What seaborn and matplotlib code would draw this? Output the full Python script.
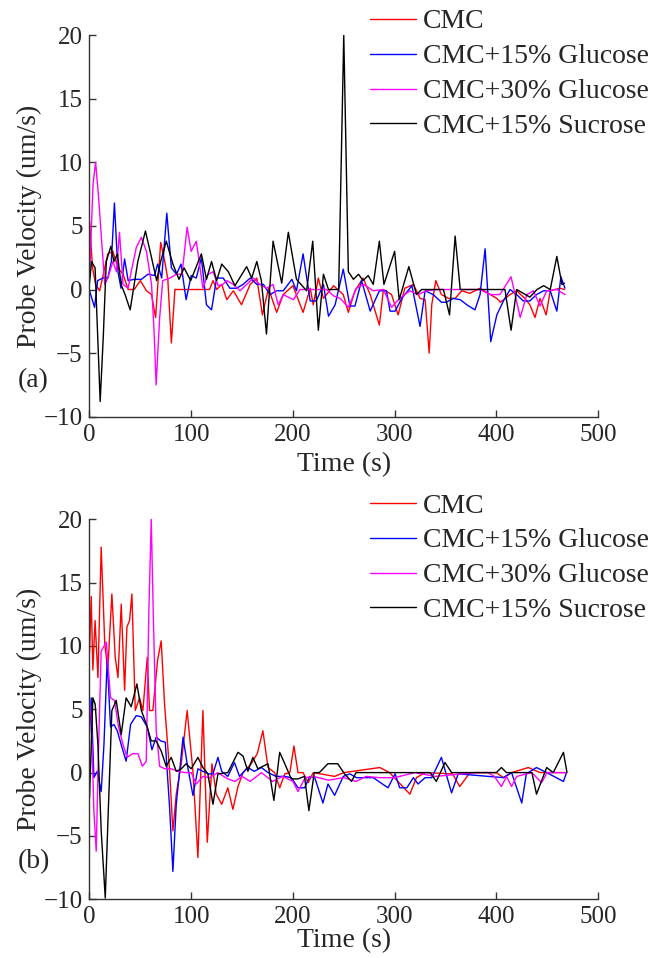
import matplotlib
matplotlib.use("Agg")
import matplotlib.pyplot as plt
import pandas as pd
import seaborn as sns

series_names = ["CMC", "CMC+15% Glucose", "CMC+30% Glucose", "CMC+15% Sucrose"]
series_colors = ["#ff0000", "#0000ff", "#ff00ff", "#000000"]
x_ticks = [0, 100, 200, 300, 400, 500]
y_ticks = [-10, -5, 0, 5, 10, 15, 20]

# ---- panel (a) ----
a_cmc_t = [0, 3, 6, 10, 18, 23, 28, 33, 38, 44, 50, 56, 61, 65, 70, 74, 77, 80.5, 84, 118,
           121.5, 125, 130, 135, 141.5, 149.5, 158, 164.5, 170, 176, 184, 190.5, 200, 210, 217, 220,
           225, 230, 240, 249.5, 254.5, 261, 269, 276, 285, 289, 297, 303.5, 310, 318.5, 325, 330,
           334, 336.5, 340.5, 346, 353, 359.5, 366, 374, 384, 394, 400.5, 404, 413.5, 420, 428, 433,
           438, 443, 449, 453, 462.5, 467]
a_cmc_v = [5.4, 1.7, 0.4, -0.1, 2.8, 3.0, 1.7, 1.2, 0.0, 0.0, 0.7, -0.1, -0.4, -2.2, 3.7, 2.2,
           0.8, -4.2, 0.0, 0.0, 0.7, 0.0, 0.4, -0.8, -0.1, -1.2, 0.4, 0.9, -2.0, 0.1, -1.8, -0.4,
           0.3, -1.8, 0.1, -1.2, 0.9, -0.7, 0.3, -0.4, -1.8, -0.1, 0.9, -0.4, -2.8, 0.0, -0.4, -2.0,
           0.1, 0.4, -0.7, -0.8, -5.0, -1.2, 0.7, -0.4, -0.7, -0.7, -0.1, -0.3, 0.1, -0.4, -0.7, -1.0,
           -0.4, -0.1, -0.7, -1.2, -2.2, -0.7, -2.0, -0.1, 0.1, 0.0]

a_g15_t = [0, 5, 8, 13, 18, 21.5, 24.5, 28, 31, 34.5, 38, 44, 51, 57.5, 64, 67, 71, 76, 80.5,
           85.5, 90, 95, 100, 105, 110, 115, 120, 125, 131.5, 138, 144.5, 151, 158, 164.5, 171,
           177.5, 184, 190.5, 199, 203.5, 210, 217, 223, 230, 235, 241.5, 249.5, 256, 261, 267.5,
           276, 285, 292, 295.5, 300.5, 307, 317, 325, 330, 338, 346, 351, 357.5, 364.5, 371, 379,
           384, 389, 394.5, 400.5, 407, 413.5, 420, 426.5, 433, 439.5, 446.5, 453, 459.5, 463.5, 467.5]
a_g15_v = [-0.1, -1.4, 0.7, 0.9, 0.9, 2.2, 6.8, 1.4, 0.1, 2.4, 0.7, 0.8, 0.8, 1.2, 1.1, 2.0, 0.9,
           6.0, 1.7, 1.2, 2.0, -0.8, 1.1, 0.9, 2.5, -1.2, -1.6, 0.9, 0.9, 0.1, 0.1, 0.4, 0.9, 0.4,
           0.4, -0.4, -0.1, -0.1, 0.8, -0.1, 2.8, -0.9, -0.9, 0.4, -2.1, -1.2, 1.6, -1.3, -1.3, 0.7,
           -1.7, -0.1, -0.1, -1.7, -1.7, -0.7, 0.3, -2.9, -0.1, -0.4, -1.0, -1.0, -0.7, -0.8, -1.2,
           -1.6, -0.4, 3.2, -4.1, -2.0, -0.9, 0.0, -0.4, -0.9, -0.9, -0.4, -0.1, -0.1, -1.7, 1.0, 0.1]

a_g30_t = [0, 3.5, 6, 9, 11.5, 15, 18, 23, 26.5, 29.5, 33, 38, 41, 46, 51, 56, 61, 63.5, 65.5,
           69, 72, 79, 85.5, 91, 96, 100, 105, 111.5, 116.5, 121.5, 126.5, 131, 135, 141.5, 148,
           154.5, 161, 167.5, 174, 180.5, 185.5, 190.5, 200.5, 207, 233, 240, 246.5, 254.5, 262.5,
           269.5, 279, 289, 297, 305, 315, 323, 331.5, 341.5, 384, 394, 403.5, 414.5, 423.5, 430,
           436.5, 443, 449.5, 459.5, 467.5]
a_g30_v = [0.9, 8.3, 10.0, 7.2, 4.3, 0.4, 0.9, 2.2, 1.4, 4.5, 0.4, 0.1, 1.4, 3.3, 4.1, 3.0, 0.4,
           -3.3, -7.5, -2.2, 0.7, 0.9, 1.2, 1.2, 4.9, 3.0, 3.8, 0.1, 1.2, 1.4, 0.3, 0.4, 0.7, 0.4,
           -0.1, 0.4, 0.9, 0.4, 0.1, 0.4, -1.2, -0.4, -0.8, 0.0, 0.0, -0.5, -0.7, -1.4, 0.1, 0.4,
           -0.1, 0.0, -1.4, -0.7, -0.1, -0.4, -0.1, 0.0, 0.0, -0.4, -0.4, 1.0, -2.2, -0.4, -0.1,
           -1.3, -0.1, 0.0, -0.4]

a_s15_t = [0, 2, 5.5, 10.5, 13.5, 16.5, 21, 24, 27.5, 31, 35, 40, 47.5, 55, 61, 66, 70, 75.5, 82,
           88, 93, 99.5, 105, 110, 115, 120, 125, 130, 136.5, 143, 154.5, 159.5, 164.5, 169, 174,
           180.5, 189, 195.5, 203.5, 213.5, 219.5, 225, 230, 235, 245, 250, 254.5, 259.5, 264.5,
           269, 274, 279, 285, 289.5, 300, 304.5, 314, 321.5, 326.5, 348, 354, 359.5, 364.5, 408.5,
           414.5, 420, 433, 440, 446.5, 453, 459.5, 464.5, 467]
a_s15_v = [0.5, 2.2, 1.7, -8.8, -3.8, 2.2, 3.4, 2.2, 2.8, 0.4, -0.4, -1.6, 2.2, 4.6, 2.5, 0.7,
           2.2, 3.8, 2.0, 0.8, 1.7, 0.7, 1.8, 2.8, 0.8, 2.2, 0.7, 2.0, 1.4, 0.3, 1.8, 0.9, 2.2, 0.7,
           -3.5, 3.8, 0.5, 4.5, 0.8, -0.1, 3.8, -3.2, 1.2, 0.0, 0.0, 20.0, 1.4, 0.8, 1.2, 0.7, 1.1,
           0.4, 3.8, 0.4, 3.0, -0.8, 1.8, -0.4, 0.0, 0.0, -2.0, 4.2, 0.0, 0.0, -3.2, 0.0, -0.6, 0.0,
           0.3, 0.0, 2.6, 0.4, 0.5]

# ---- panel (b) ----
b_cmc_t = [0, 1.7, 3.3, 5.5, 8.3, 11.5, 15, 18, 22, 25.3, 28, 31.2, 34.5, 36.8, 39.4, 41.7, 45,
           49.2, 52.5, 56.8, 59, 62.3, 67, 70.5, 73.8, 78.8, 82, 85.3, 90.2, 96, 101.7, 106.6,
           111.5, 115.8, 120.4, 124.6, 130, 136, 141, 146, 151, 159, 165, 170.5, 175.5, 182, 187,
           192, 197, 201, 205, 210, 215, 220, 241, 250, 285.5, 295, 315, 321.5, 330, 357, 364, 374,
           400, 407, 415, 431.5, 443, 468]
b_cmc_v = [9.5, 13.9, 8.1, 12.0, 7.5, 17.8, 10.2, 8.1, 14.1, 9.1, 7.5, 13.3, 6.5, 11.5, 12.0,
           14.1, 4.9, 5.9, 4.9, 9.1, 4.9, 4.9, 8.9, 10.4, 5.4, 0.1, -4.6, -1.7, 0.7, 4.9, 0.1, -6.7,
           4.9, -5.5, 0.7, -1.7, -2.5, -1.2, -2.9, -1.1, 0.0, 0.7, 1.5, 3.3, 0.4, 0.0, -1.2, -0.1,
           0.0, 2.1, 0.0, 0.0, -0.8, 0.0, -0.3, 0.0, 0.4, 0.0, -1.7, -0.4, 0.0, -0.1, -1.1, 0.0,
           0.0, -0.4, 0.0, 0.4, 0.0, 0.0]

b_g15_t = [0, 1.7, 4.3, 7.6, 11.5, 14.2, 17.4, 20.7, 24, 27.3, 31.2, 36, 40.4, 46, 51, 56.8, 61.4,
           65.6, 70, 74.5, 78.8, 82, 85.3, 92, 96, 101.7, 106.6, 111.5, 117, 121.4, 126.3, 130, 136,
           142.5, 147.5, 155.5, 162, 169, 175.5, 183.5, 192, 198.5, 205, 211.5, 216.5, 221.5, 229.5,
           234.5, 241, 249.5, 256, 262.5, 279, 293.5, 300.5, 305, 312, 318.5, 323, 330, 336.5, 346,
           356, 362.5, 407, 415, 425, 429.5, 439.5, 449.5, 466, 469]
b_g15_v = [3.0, 5.9, -0.4, 0.1, -1.5, 2.2, 8.9, 3.6, 3.8, 3.3, 2.2, 0.9, 3.8, 4.5, 4.4, 3.6, 1.8,
           2.8, 2.5, 2.4, -2.8, -7.8, -2.5, 2.8, 0.7, -1.8, 0.3, 0.1, -0.1, -0.1, 1.2, 0.1, -0.3,
           0.8, -0.3, 0.4, 0.1, 0.4, 0.0, -0.3, -0.3, -0.4, -1.2, -1.2, -0.3, -0.4, -2.4, -0.9, -1.8,
           -0.3, -0.1, -0.4, -0.4, -1.2, -0.1, -1.2, -1.2, -0.4, -0.9, -0.4, -0.4, 1.2, -1.6, -0.1,
           -0.4, 0.0, -2.4, -0.1, 0.4, 0.0, -0.7, 0.0]

b_g30_t = [0, 1.7, 4.3, 6.6, 9, 11.5, 16.5, 20.7, 24.6, 28.6, 33, 37, 42.7, 47.6, 52, 55.8, 58.4,
           60.7, 63, 65.6, 69, 74, 80.5, 87, 93.5, 100, 105, 111.5, 118, 126, 136, 143, 150, 158,
           169, 180, 190, 200, 205, 212, 220, 235, 250, 262, 272, 285, 300, 320, 340, 380, 392, 398,
           405, 410, 415, 420, 435, 444.5, 450, 468]
b_g30_v = [5.5, 4.4, -3.0, -6.2, 2.2, 9.6, 10.3, 5.9, 5.7, 3.6, 2.2, 1.2, 1.5, 1.5, 0.5, 0.9,
           12.8, 20.0, 11.5, 3.3, 0.5, 0.3, 0.3, 0.1, 0.0, 0.0, -0.9, -0.3, -0.4, 0.0, -0.5, -0.7,
           -0.3, -0.7, 0.0, -0.7, -0.3, -0.7, -1.5, -0.4, -0.3, -0.6, -0.4, -0.7, -0.3, -0.4, -0.4,
           0.0, -0.3, 0.0, 0.0, -0.3, -1.1, -0.3, -1.1, -0.3, 0.0, -0.8, 0.0, 0.0]

b_s15_t = [0, 3.3, 5.6, 8.3, 11.5, 15.5, 18.7, 22, 26.3, 31.2, 36, 41, 46.6, 51, 56, 60.7, 65.6,
           70.5, 75.4, 80.4, 85.3, 90.3, 95, 100, 106.6, 111.5, 116.4, 121.4, 126.3, 136, 146, 151,
           155.7, 160.6, 165.6, 175.5, 181.3, 187, 192, 198.4, 205, 211.4, 215.7, 221, 226, 234.4,
           244, 250.8, 257.7, 262, 335, 341, 349.5, 356, 400, 405, 410, 435, 439.5, 449.5, 456, 466,
           469.5]
b_s15_v = [-2.0, 5.9, 5.4, 2.2, -4.6, -9.9, -2.5, 4.9, 5.7, 3.0, 5.9, 5.2, 7.0, 4.9, 3.8, 2.5,
           2.5, 1.7, 0.5, 1.2, 0.1, 0.3, 0.7, 0.3, 1.2, 0.4, -0.1, -2.5, -0.1, 0.0, 1.6, 1.3, 0.1,
           1.2, 0.3, 0.7, -2.2, 1.6, 0.7, -0.5, -0.5, -0.3, -3.0, 0.0, 0.0, 0.7, 0.7, -0.1, -0.7,
           0.0, 0.0, -0.7, 0.8, 0.0, 0.0, 0.4, 0.0, 0.0, -1.7, 0.4, 0.0, 1.6, 0.0]


def long_form(pairs):
    frames = []
    for name, (t, v) in zip(series_names, pairs):
        frames.append(pd.DataFrame({"time": t, "velocity": v, "series": name}))
    return pd.concat(frames, ignore_index=True)


df_a = long_form([(a_cmc_t, a_cmc_v), (a_g15_t, a_g15_v), (a_g30_t, a_g30_v), (a_s15_t, a_s15_v)])
df_b = long_form([(b_cmc_t, b_cmc_v), (b_g15_t, b_g15_v), (b_g30_t, b_g30_v), (b_s15_t, b_s15_v)])

sns.set_style("ticks")
plt.rcParams["font.family"] = ["Liberation Serif", "DejaVu Serif"]

palette = dict(zip(series_names, series_colors))

fig = plt.figure(figsize=(6.6, 9.58), dpi=100)
ax_a = fig.add_axes([0.1356, 0.565, 0.7705, 0.3984])
ax_b = fig.add_axes([0.1356, 0.0613, 0.7705, 0.3967])

panels = [
    (ax_a, df_a, "(a)", 0.9906, 1 - 381 / 958, -0.0925),
    (ax_b, df_b, "(b)", 0.4853, 1 - 862 / 958, -0.0755),
]

for ax, df, tag, leg_top, tag_y, xlab_y in panels:
    sns.lineplot(data=df, x="time", y="velocity", hue="series", hue_order=series_names,
                 palette=palette, estimator=None, sort=False, lw=1.0, ax=ax)
    ax.set_xlim(0, 500)
    ax.set_ylim(-10, 20)
    ax.set_xticks(x_ticks)
    ax.set_yticks(y_ticks)
    sns.despine(ax=ax)
    for side in ("left", "bottom"):
        ax.spines[side].set_linewidth(1.0)
        ax.spines[side].set_color("#333333")
    ax.tick_params(direction="in", length=5, width=1.0, color="#333333",
                   labelsize=18, pad=5)
    ax.set_xlabel("Time (s)", fontsize=20)
    ax.set_ylabel("Probe Velocity (um/s)", fontsize=20)
    ax.xaxis.set_label_coords(0.5, xlab_y)
    ax.yaxis.set_label_coords(-0.093, 0.5)

    handles, labels = ax.get_legend_handles_labels()
    ax.legend(handles, labels, loc="upper left", bbox_to_anchor=(0.5606, leg_top),
              bbox_transform=fig.transFigure, frameon=False, fontsize=20,
              borderpad=0, borderaxespad=0, handlelength=1.65, handletextpad=0.25,
              labelspacing=0.34)
    fig.text(18 / 660, tag_y, tag, fontsize=20, va="center", ha="left")

fig.savefig("out.png", dpi=100)
